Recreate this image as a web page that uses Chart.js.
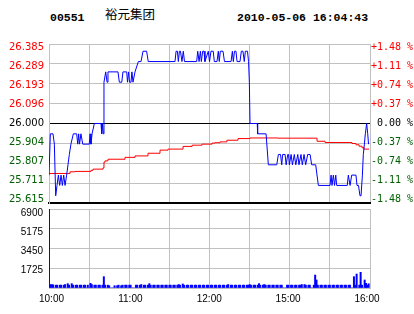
<!DOCTYPE html>
<html>
<head>
<meta charset="utf-8">
<script src="https://cdn.jsdelivr.net/npm/chart.js@4"></script>
<style>
  body { margin:0; background:#fff; width:414px; height:314px; overflow:hidden; position:relative; }
  .hd { position:absolute; top:11px; font-family:"Liberation Mono", monospace; font-weight:bold; font-size:11.5px; line-height:13px; color:#000; white-space:nowrap; }
  #name { position:absolute; left:105px; top:8px; font-family:"Noto Sans CJK SC", sans-serif; font-size:12.5px; line-height:12.5px; color:#000; white-space:nowrap; }
  canvas { position:absolute; left:0; }
</style>
</head>
<body>
<div class="hd" style="left:50px">00551</div>
<div id="name">裕元集团</div>
<div class="hd" style="left:237px">2010-05-06 16:04:43</div>
<canvas id="price" width="414" height="216" style="top:0;width:414px;height:216px"></canvas>
<canvas id="vol" width="414" height="118" style="top:196px;width:414px;height:118px"></canvas>
<script>
// minutes after 10:00 (trading minutes, 12:30 == 14:30) and last price
const priceMin = [0, 1, 3, 4, 5, 6, 7, 8, 9, 10, 11, 12, 13.2, 14.2, 15.2, 16.4, 18.2, 20.7, 21.5, 22.2,
  22.8, 23.9, 25.2, 30.1, 30.7, 31.4, 32.2, 33.9, 38.9, 39.4, 39.9, 40.6, 41.1, 42.4, 43.4, 44.1, 51.6, 52.6, 54.4, 55.3,
  58.1, 58.7, 59.5, 60.2, 61.3, 62, 62.8, 64.3, 66.8, 68.8, 70.3, 73, 74.2, 94.2, 95, 96, 96.7, 97.5, 98.3, 99.4,
  100.4, 101.3, 110.4, 111.2, 112.2, 113.2, 113.9, 114.9, 115.9, 116.6, 119.1, 120, 121.1, 122.8, 123.6, 125.6, 126.6, 127.3, 128.1, 130.1,
  131.2, 136.1, 137.1, 137.8, 138.7, 139.8, 140.6, 142.8, 143.8, 145, 146, 146.8, 148.4, 149.2, 149.8, 150.3, 155.7, 156, 162.3, 164,
  170.3, 171.5, 173.1, 174, 174.7, 176.5, 177.3, 178.5, 179.1, 179.7, 181, 182, 183.4, 184.5, 186, 186.9, 188.4, 189.4, 190.7, 191.9,
  193.4, 195.2, 196.4, 199.4, 201.4, 210.1, 210.9, 211.6, 212.6, 213.5, 214.4, 215.1, 223, 223.8, 225.1, 226.3, 229.5, 230.3, 231.4, 232.5,
  233.3, 234.3, 235, 235.8, 236.5, 237.5, 238.3, 238.9];
const price = [25.75, 25.95, 25.95, 25.90, 25.65, 25.70, 25.75, 25.70, 25.75, 25.70, 25.75, 25.70, 25.75, 25.80, 25.85, 25.90, 25.95, 25.95, 25.90, 25.95,
  25.90, 25.95, 25.90, 25.90, 25.95, 25.90, 25.95, 26.00, 26.00, 25.95, 26.00, 25.95, 26.20, 26.25, 26.20, 26.25, 26.25, 26.20, 26.20, 26.25,
  26.25, 26.20, 26.25, 26.20, 26.20, 26.25, 26.20, 26.25, 26.30, 26.30, 26.35, 26.35, 26.30, 26.30, 26.35, 26.35, 26.30, 26.35, 26.35, 26.30,
  26.35, 26.30, 26.30, 26.35, 26.30, 26.35, 26.30, 26.35, 26.35, 26.30, 26.35, 26.30, 26.35, 26.35, 26.30, 26.30, 26.35, 26.30, 26.35, 26.35,
  26.30, 26.30, 26.35, 26.30, 26.35, 26.35, 26.30, 26.30, 26.35, 26.35, 26.30, 26.35, 26.35, 26.30, 26.20, 26.00, 26.00, 25.95, 25.95, 25.80,
  25.80, 25.85, 25.85, 25.80, 25.85, 25.85, 25.80, 25.85, 25.85, 25.80, 25.85, 25.80, 25.85, 25.80, 25.85, 25.80, 25.85, 25.80, 25.85, 25.80,
  25.85, 25.85, 25.80, 25.80, 25.70, 25.70, 25.75, 25.70, 25.75, 25.70, 25.75, 25.70, 25.70, 25.75, 25.70, 25.75, 25.75, 25.70, 25.70, 25.65,
  25.65, 25.75, 25.85, 25.90, 25.95, 26.00, 25.95, 25.90];

// average price line
const avgMin = [0, 14, 15.7, 19.4, 31.4, 32.9, 40.4, 41.1, 41.9, 44.1, 56.8, 64.3, 74, 83, 89, 100.2, 107, 114.4, 121.9, 124,
  127.9, 133, 141.3, 150.3, 171.2, 198.9, 200.4, 206.4, 225, 226.5, 229.5, 231.8, 234, 235.5, 239.3];
const avgPrice = [25.758, 25.758, 25.766, 25.768, 25.773, 25.779, 25.785, 25.813, 25.819, 25.827, 25.836, 25.843, 25.856, 25.871, 25.876, 25.889, 25.895, 25.900, 25.905, 25.907,
  25.911, 25.919, 25.927, 25.930, 25.929, 25.929, 25.914, 25.908, 25.908, 25.903, 25.897, 25.890, 25.883, 25.876, 25.876];

// volume per minute
const volume = [
  6900, 300, 300, 280, 0, 250, 250, 0, 250, 250,
  0, 250, 300, 0, 380, 250, 0, 380, 250, 0,
  250, 250, 0, 250, 250, 0, 250, 250, 0, 250,
  0, 410, 300, 0, 250, 250, 0, 250, 250, 0,
  250, 990, 250, 0, 250, 200, 0, 0, 0, 200,
  0, 200, 250, 0, 200, 250, 0, 250, 250, 0,
  250, 250, 0, 0, 0, 250, 250, 0, 250, 300,
  0, 250, 250, 0, 250, 380, 250, 0, 250, 250,
  0, 250, 250, 0, 250, 250, 0, 250, 250, 0,
  250, 250, 0, 250, 250, 0, 250, 300, 250, 0,
  350, 250, 0, 250, 250, 0, 250, 250, 0, 250,
  250, 0, 250, 250, 0, 250, 250, 0, 250, 250,
  0, 250, 250, 0, 250, 250, 0, 250, 250, 0,
  250, 250, 0, 250, 300, 0, 250, 250, 0, 250,
  250, 0, 250, 250, 0, 250, 250, 0, 250, 250,
  300, 250, 0, 250, 250, 0, 250, 380, 250, 0,
  250, 300, 250, 0, 250, 250, 0, 250, 250, 0,
  250, 250, 0, 250, 250, 0, 0, 0, 250, 250,
  0, 250, 250, 0, 250, 250, 0, 250, 250, 300,
  0, 300, 250, 0, 250, 250, 0, 0, 250, 1130,
  700, 250, 0, 250, 250, 0, 250, 250, 0, 250,
  250, 0, 250, 250, 0, 250, 250, 0, 250, 250,
  0, 250, 250, 0, 250, 250, 0, 0, 990, 250,
  1220, 0, 250, 1370, 250, 0, 700, 410, 250, 370];

const priceTicks = [26.385, 26.289, 26.193, 26.096, 26.000, 25.904, 25.807, 25.711, 25.615];
const priceLabels = ['26.385', '26.289', '26.193', '26.096', '26.000', '25.904', '25.807', '25.711', '25.615'];
const pctTicks = [1.48, 1.11, 0.74, 0.37, 0, -0.37, -0.74, -1.11, -1.48];
const pctLabels = ['+1.48 %', '+1.11 %', '+0.74 %', '+0.37 %', ' 0.00 %', '-0.37 %', '-0.74 %', '-1.11 %', '-1.48 %'];
const volTicks = [6900, 5175, 3450, 1725];
const volLabels = ['6900', '5175', '3450', '1725'];
const timeTicks = [0, 60, 120, 180, 240];
const timeLabels = ['10:00', '11:00', '12:00', '15:00', '16:00'];

const GRID = '#c0c0c0';
const RED = '#ff0000';
const GREEN = '#006000';

function toXY(xs, ys) { return xs.map(function (x, i) { return { x: x, y: ys[i] }; }); }
// widen a label axis so the outer labels sit a few px inside the plot (like the original)
function inset(lo, hi, a, b, len) { var k = (hi - lo) / (len - a - b); return { min: lo - b * k, max: hi + a * k }; }
function setTicks(vals) { return function (axis) { axis.ticks = vals.map(function (v) { return { value: v }; }); }; }
function fixW(w) { return function (axis) { axis.width = w; }; }
function fixH(h) { return function (axis) { axis.height = h; }; }
function labelColor(ctx) { return ctx.index < 4 ? RED : (ctx.index === 4 ? '#000' : GREEN); }

const plotW = 321, plotH = 159, volH = 79;
const pl = inset(25.615, 26.385, 3.7, 3.3, plotH);
const pr = inset(-1.48, 1.48, 3.7, 3.3, plotH);
const vl = inset(1725, 6900, 4.7, 18, volH);
const tl = inset(0, 240, 3, 2.5, plotW);

new Chart(document.getElementById('price'), {
    type: 'line',
    data: {
        datasets: [{
            data: toXY(priceMin, price),
            borderColor: '#0000ff', borderWidth: 1, pointRadius: 0, order: 1
        }, {
            data: toXY(avgMin, avgPrice),
            borderColor: '#ff0000', borderWidth: 1, pointRadius: 0, stepped: true, order: 2
        }]
    },
    options: {
        responsive: false, animation: false, devicePixelRatio: 1,
        layout: { padding: { top: 44, bottom: 13, left: 0, right: 0 } },
        plugins: { legend: { display: false }, tooltip: { enabled: false } },
        scales: {
            x: { type: 'linear', min: 0, max: 240, ticks: { display: false, stepSize: 30 },
                 grid: { color: GRID, drawTicks: false }, border: { color: '#000', width: 2 }, afterFit: fixH(0) },
            y: { type: 'linear', position: 'left', min: 25.615, max: 26.385, afterBuildTicks: setTicks(priceTicks),
                 ticks: { display: false },
                 grid: { drawTicks: false,
                         color: function (c) { return (c.index === 4 || c.index === 8) ? '#000' : GRID; },
                         lineWidth: function (c) { return c.index === 8 ? 2 : 1; } },
                 border: { color: GRID }, afterFit: fixW(0) },
            yl: { type: 'linear', position: 'left', min: pl.min, max: pl.max, afterBuildTicks: setTicks(priceTicks),
                  ticks: { callback: function (v, i) { return priceLabels[i]; }, color: labelColor,
                           font: { family: 'DejaVu Sans', size: 10 }, padding: 5, autoSkip: false },
                  grid: { display: false, drawTicks: false }, border: { display: false }, afterFit: fixW(49) },
            yr: { type: 'linear', position: 'right', min: pr.min, max: pr.max, afterBuildTicks: setTicks(pctTicks),
                  ticks: { callback: function (v, i) { return pctLabels[i]; }, color: labelColor,
                           font: { family: 'DejaVu Sans Mono', size: 10 }, padding: 1, autoSkip: false },
                  grid: { display: false, drawTicks: false }, border: { display: false }, afterFit: fixW(44) }
        }
    }
});

new Chart(document.getElementById('vol'), {
    type: 'bar',
    data: {
        datasets: [{
            data: volume.map(function (v, i) { return { x: i, y: v }; }),
            backgroundColor: '#0000ff', barPercentage: 1, categoryPercentage: 1
        }]
    },
    options: {
        responsive: false, animation: false, devicePixelRatio: 1,
        layout: { padding: { top: 13, bottom: 0, left: 0, right: 44 } },
        plugins: { legend: { display: false }, tooltip: { enabled: false } },
        scales: {
            x: { type: 'linear', min: 0, max: 240, offset: false, ticks: { display: false, stepSize: 30 },
                 grid: { color: GRID, drawTicks: false, offset: false }, border: { color: GRID }, afterFit: fixH(0) },
            xl: { type: 'linear', position: 'bottom', min: tl.min, max: tl.max, offset: false,
                  afterBuildTicks: setTicks(timeTicks),
                  ticks: { callback: function (v, i) { return timeLabels[i]; }, color: '#000',
                           font: { family: 'Liberation Sans', size: 10 }, padding: 5, autoSkip: false, maxRotation: 0 },
                  grid: { display: false, drawTicks: false, offset: false }, border: { display: false }, afterFit: fixH(26) },
            y: { type: 'linear', position: 'left', min: 0, max: 6900, afterBuildTicks: setTicks([6900, 5175, 3450, 1725, 0]),
                 ticks: { display: false }, grid: { color: GRID, drawTicks: false }, border: { color: GRID }, afterFit: fixW(0) },
            yl: { type: 'linear', position: 'left', min: vl.min, max: vl.max, afterBuildTicks: setTicks(volTicks),
                  ticks: { callback: function (v, i) { return volLabels[i]; }, color: '#000',
                           font: { family: 'Liberation Sans', size: 10 }, padding: 6, autoSkip: false },
                  grid: { display: false, drawTicks: false }, border: { display: false }, afterFit: fixW(49) }
        }
    }
});
</script>
</body>
</html>
